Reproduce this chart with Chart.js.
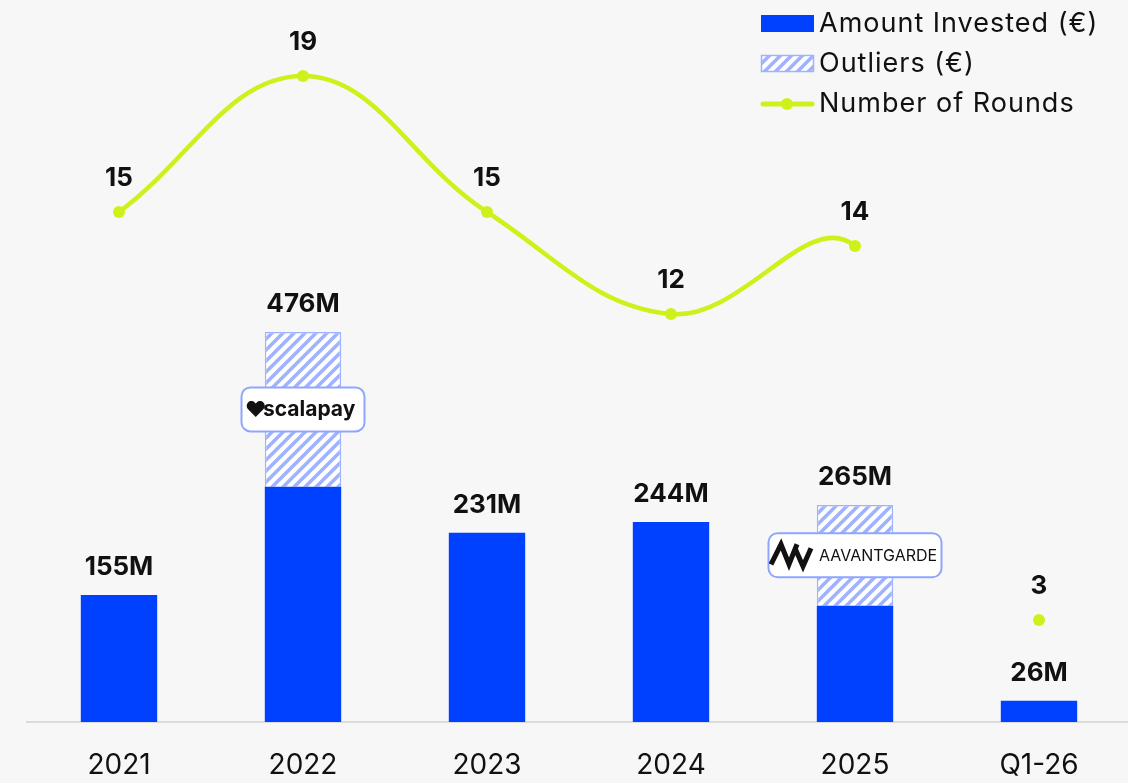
<!DOCTYPE html>
<html>
<head>
<meta charset="utf-8">
<script src="https://cdn.jsdelivr.net/npm/chart.js@4.4.1/dist/chart.umd.min.js"></script>
<style>
  html, body { margin: 0; padding: 0; background: #f7f7f7; overflow: hidden; }
  #wrap { width: 1128px; height: 783px; overflow: hidden; }
</style>
</head>
<body>
<div id="wrap"><canvas id="chart" width="1137" height="783"></canvas></div>
<script>
// chart data
const categories = ["2021", "2022", "2023", "2024", "2025", "Q1-26"];
const invested = [155, 287, 231, 244, 142, 26];   // M€ (regular rounds)
const outliers = [0, 189, 0, 0, 123, 0];          // M€ (outlier rounds)
const totalLabels = ["155M", "476M", "231M", "244M", "265M", "26M"];
const rounds = [15, 19, 15, 12, 14, 3];
const outlierNames = [null, "scalapay", null, null, "AAVANTGARDE", null];

const BLUE = "#0040ff";
const HATCH = "#9fb2ff";
const LIME = "#d0f01c";
const FONT = "Inter, 'DejaVu Sans', sans-serif";

// diagonal hatch for the outliers
const makeHatch = () => {
  const pc = document.createElement("canvas");
  pc.width = 11;
  pc.height = 11;
  const p = pc.getContext("2d");
  p.fillStyle = "#ffffff";
  p.fillRect(0, 0, 11, 11);
  p.strokeStyle = HATCH;
  p.lineWidth = 3.5;
  p.beginPath();
  p.moveTo(-2, 13); p.lineTo(13, -2);
  p.moveTo(-7, 7); p.lineTo(7, -7);
  p.moveTo(4, 18); p.lineTo(18, 4);
  p.stroke();
  return document.getElementById("chart").getContext("2d").createPattern(pc, "repeat");
};
const hatch = makeHatch();

const roundRect = (ctx, x, y, w, h, r) => {
  ctx.beginPath();
  ctx.moveTo(x + r, y);
  ctx.arcTo(x + w, y, x + w, y + h, r);
  ctx.arcTo(x + w, y + h, x, y + h, r);
  ctx.arcTo(x, y + h, x, y, r);
  ctx.arcTo(x, y, x + w, y, r);
  ctx.closePath();
};

// labels above bars and points, outlier badges, legend
const decorations = {
  id: "decorations",
  afterDatasetsDraw(chart) {
    const ctx = chart.ctx;
    const lineMeta = chart.getDatasetMeta(0);
    const baseMeta = chart.getDatasetMeta(1);
    const outMeta = chart.getDatasetMeta(2);
    ctx.save();
    ctx.fillStyle = "#111";
    ctx.textAlign = "center";
    ctx.textBaseline = "middle";
    ctx.font = "bold 26px " + FONT;
    categories.forEach((c, i) => {
      const top = outliers[i] > 0 ? outMeta.data[i].y : baseMeta.data[i].y;
      ctx.fillText(totalLabels[i], baseMeta.data[i].x, top - 28);
      const pt = lineMeta.data[i];
      ctx.fillText(String(rounds[i]), pt.x, pt.y - 34);
    });

    // outlier badges
    outlierNames.forEach((name, i) => {
      if (!name) return;
      const el = outMeta.data[i];
      const cy = (el.y + el.base) / 2;
      const cx = el.x;
      const w = name === "scalapay" ? 123 : 173;
      const h = 44;
      ctx.fillStyle = "#ffffff";
      ctx.strokeStyle = "#8fa6ff";
      ctx.lineWidth = 2;
      roundRect(ctx, cx - w / 2, cy - h / 2, w, h, 9);
      ctx.fill();
      ctx.stroke();
      ctx.fillStyle = "#111";
      if (name === "scalapay") {
        ctx.font = "bold 21px " + FONT;
        ctx.textAlign = "left";
        ctx.fillText("♥", cx - 58, cy + 1);
        ctx.fillText("scalapay", cx - 40, cy);
      } else {
        // simple ribbon mark then the name
        ctx.lineWidth = 5;
        ctx.strokeStyle = "#111";
        ctx.lineJoin = "miter";
        ctx.beginPath();
        ctx.moveTo(cx - 84, cy + 9);
        ctx.lineTo(cx - 74, cy - 11);
        ctx.lineTo(cx - 66, cy + 9);
        ctx.lineTo(cx - 58, cy - 11);
        ctx.moveTo(cx - 60, cy - 7);
        ctx.lineTo(cx - 52, cy + 11);
        ctx.lineTo(cx - 44, cy - 7);
        ctx.stroke();
        ctx.font = "16px " + FONT;
        ctx.textAlign = "left";
        ctx.fillText(name, cx - 36, cy + 1);
      }
      ctx.textAlign = "center";
    });

    // legend
    ctx.textAlign = "left";
    ctx.font = "27px " + FONT;
    ctx.letterSpacing = "1px";
    ctx.fillStyle = BLUE;
    ctx.fillRect(761, 15, 53, 17);
    ctx.fillStyle = "#111";
    ctx.fillText("Amount Invested (€)", 819, 24);

    ctx.fillStyle = hatch;
    ctx.fillRect(761, 55, 53, 17);
    ctx.strokeStyle = HATCH;
    ctx.lineWidth = 1.5;
    ctx.strokeRect(761.5, 55.5, 52, 16);
    ctx.fillStyle = "#111";
    ctx.fillText("Outliers (€)", 819, 64);

    ctx.strokeStyle = LIME;
    ctx.lineWidth = 5;
    ctx.lineCap = "round";
    ctx.beginPath();
    ctx.moveTo(763, 104);
    ctx.lineTo(812, 104);
    ctx.stroke();
    ctx.fillStyle = LIME;
    ctx.beginPath();
    ctx.arc(787, 104, 6, 0, Math.PI * 2);
    ctx.fill();
    ctx.fillStyle = "#111";
    ctx.fillText("Number of Rounds", 819, 104);
    ctx.restore();
  },
};

new Chart(document.getElementById("chart"), {
  type: "bar",
  data: {
    labels: categories,
    datasets: [
      {
        type: "line",
        label: "Number of Rounds",
        data: rounds,
        yAxisID: "yR",
        borderColor: LIME,
        backgroundColor: LIME,
        borderWidth: 4.5,
        tension: 0.4,
        pointRadius: 6,
        pointBackgroundColor: LIME,
        pointBorderWidth: 0,
        // the Q1-26 point is shown without a connecting segment
        segment: {
          borderColor: (ctx) => (ctx.p1DataIndex === categories.length - 1 ? "rgba(0,0,0,0)" : undefined),
        },
        order: 0,
      },
      {
        label: "Amount Invested (€)",
        data: invested,
        backgroundColor: BLUE,
        stack: "s",
        yAxisID: "y",
        order: 1,
      },
      {
        label: "Outliers (€)",
        data: outliers,
        backgroundColor: hatch,
        borderColor: HATCH,
        borderWidth: 1.5,
        stack: "s",
        yAxisID: "y",
        order: 1,
      },
    ],
  },
  options: {
    responsive: false,
    animation: false,
    layout: { padding: { top: 42, left: 27, right: 0, bottom: 0 } },
    datasets: {
      bar: { categoryPercentage: 0.83, barPercentage: 0.5 },
    },
    plugins: {
      legend: { display: false },
      tooltip: { enabled: false },
    },
    scales: {
      x: {
        stacked: true,
        grid: { display: false },
        border: { display: true, color: "#dcdcdc", width: 2 },
        ticks: {
          color: "#111",
          font: { family: FONT, size: 28 },
          padding: 19,
        },
        afterFit: (scale) => {
          scale.height = 61;
        },
      },
      y: { display: false, stacked: true, min: 0, max: 830 },
      yR: { display: false, min: 0, max: 20 },
    },
  },
  plugins: [decorations],
});
</script>
</body>
</html>
